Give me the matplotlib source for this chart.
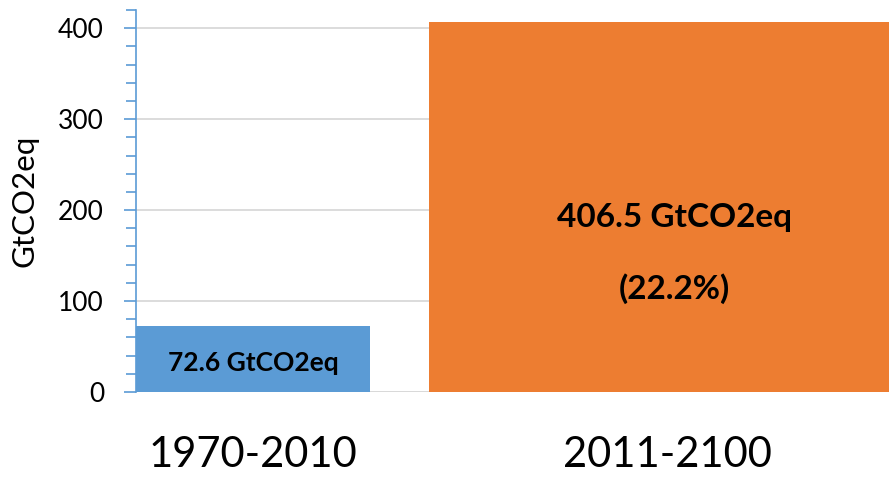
import matplotlib.pyplot as plt
from matplotlib.ticker import MultipleLocator

periods = ['1970-2010', '2011-2100']
emissions = [72.6, 406.5]
bar_labels = ['72.6 GtCO2eq', '406.5 GtCO2eq\n\n(22.2%)']
colors = ['#5B9BD5', '#ED7D31']

plt.rcParams['font.family'] = ['Lato', 'DejaVu Sans']

fig = plt.figure(figsize=(8.89, 4.80), dpi=100)
# plot area runs a bit past the right edge of the picture, like the original crop
ax = fig.add_axes([136 / 889, 88 / 480, 769 / 889, 382 / 480])

x = [0, 1]
widths = [0.565, 1.15]
ax.bar(x, emissions, width=widths, color=colors, zorder=2)

ax.set_xlim(-0.283, 1.575)
ax.set_ylim(0, 420)
ax.yaxis.set_major_locator(MultipleLocator(100))
ax.yaxis.set_minor_locator(MultipleLocator(20))
ax.grid(axis='y', which='major', color='#D9D9D9', linewidth=1.3, zorder=0)
ax.set_axisbelow(True)

for s in ['top', 'right', 'bottom']:
    ax.spines[s].set_visible(False)
ax.spines['left'].set_color('#5B9BD5')
ax.spines['left'].set_linewidth(1.2)
ax.axhline(0, color='#D9D9D9', linewidth=1.3, zorder=1)

ax.tick_params(axis='y', which='both', direction='out', color='#5B9BD5',
               width=1.2, labelsize=19)
ax.tick_params(axis='y', which='major', length=9, pad=14)
ax.tick_params(axis='y', which='minor', length=7)
ax.set_xticks(x)
ax.set_xticklabels(periods, fontsize=30)
ax.tick_params(axis='x', length=0, pad=32)

ax.set_ylabel('GtCO2eq', fontsize=22.5, labelpad=14)

ax.text(x[0], 32, bar_labels[0], ha='center', va='center',
        fontsize=19, fontweight='bold', zorder=3)
ax.text(x[1] + 0.017, 152, bar_labels[1], ha='center', va='center',
        fontsize=24, fontweight='bold', linespacing=1.25, zorder=3)

fig.savefig('out.png', dpi=100)
